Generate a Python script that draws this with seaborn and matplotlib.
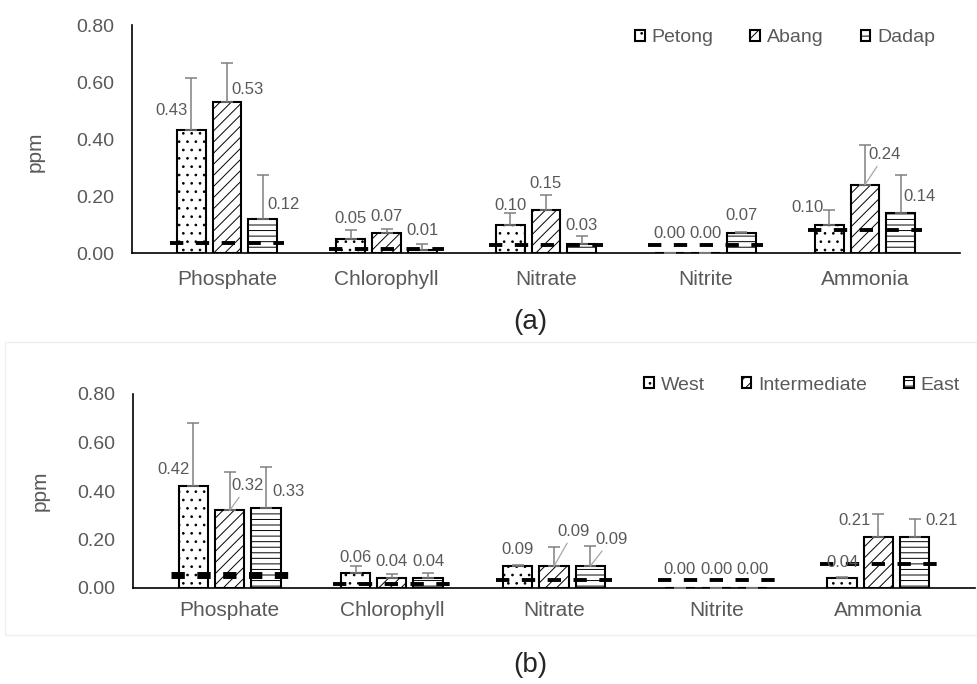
import numpy as np
import pandas as pd
import matplotlib
matplotlib.use('Agg')
import matplotlib.pyplot as plt
import matplotlib.patches as mpatches
import seaborn as sns

# parameters measured
params = ['Phosphate', 'Chlorophyll', 'Nitrate', 'Nitrite', 'Ammonia']

# (a) by site
sites = ['Petong', 'Abang', 'Dadap']
mean_petong = [0.43, 0.05, 0.10, 0.00, 0.10]
mean_abang = [0.53, 0.07, 0.15, 0.00, 0.24]
mean_dadap = [0.12, 0.01, 0.03, 0.07, 0.14]
sd_petong = [0.185, 0.03, 0.04, 0.0, 0.05]
sd_abang = [0.135, 0.015, 0.055, 0.0, 0.14]
sd_dadap = [0.155, 0.022, 0.03, 0.003, 0.135]
limit_a = [0.036, 0.013, 0.027, 0.027, 0.082]

# (b) by zone
zones = ['West', 'Intermediate', 'East']
mean_west = [0.42, 0.06, 0.09, 0.00, 0.04]
mean_inter = [0.32, 0.04, 0.09, 0.00, 0.21]
mean_east = [0.33, 0.04, 0.09, 0.00, 0.21]
sd_west = [0.26, 0.03, 0.005, 0.0, 0.007]
sd_inter = [0.16, 0.016, 0.08, 0.0, 0.095]
sd_east = [0.17, 0.02, 0.085, 0.0, 0.075]
limit_b = [0.054, 0.015, 0.033, 0.033, 0.10]

sns.set_style('white')
plt.rcParams['font.family'] = ['Liberation Sans', 'DejaVu Sans']
plt.rcParams['hatch.linewidth'] = 0.7

GRAY = '#595959'
hatches = ['..', '///', '---']

# label offsets in pixels (dx, dy) from the bar top, and whether a leader line is drawn
offs_a = [
    [(-20, 20), (0, 20), (0, 19), (0, 20), (-22, 17)],
    [(20, 12), (0, 17), (0, 27), (0, 20), (20, 30)],
    [(21, 14), (0, 20), (0, 19), (0, 18), (19, 17)],
]
lead_a = [[0, 0, 0, 0, 0], [0, 0, 0, 0, 1], [0, 0, 0, 0, 0]]
offs_b = [
    [(-20, 17), (0, 16), (0, 17), (0, 18), (0, 16)],
    [(18, 25), (0, 17), (20, 35), (0, 18), (-24, 17)],
    [(23, 16), (0, 17), (21, 27), (0, 18), (27, 17)],
]
lead_b = [[0, 0, 0, 0, 0], [1, 0, 1, 0, 0], [0, 0, 1, 0, 0]]


def draw_panel(ax, groups, means, sds, limits, offs, leads, limit_lw, legend_anchor, tick_pad):
    df = pd.DataFrame({
        'param': params * len(groups),
        'group': np.repeat(groups, len(params)),
        'value': np.concatenate(means),
    })
    sns.barplot(data=df, x='param', y='value', hue='group', order=params,
                hue_order=groups, palette=['white'] * 3, saturation=1,
                errorbar=None, width=0.67, gap=0.19, edgecolor='black',
                linewidth=1.5, legend=False, ax=ax, zorder=2)

    bar_sets = list(ax.containers)
    for i, cont in enumerate(bar_sets):
        xs, hs = [], []
        for p in cont:
            p.set_hatch(hatches[i])
            xs.append(p.get_x() + p.get_width() / 2)
            hs.append(p.get_height())
        ax.errorbar(xs, hs, yerr=[np.zeros(len(xs)), sds[i]], fmt='none',
                    ecolor='#808080', elinewidth=1.1, capsize=4, capthick=1.1,
                    zorder=3)
        for j, (x, h) in enumerate(zip(xs, hs)):
            arrow = None
            if leads[i][j]:
                arrow = dict(arrowstyle='-', color='#a6a6a6', lw=0.9,
                             shrinkA=1, shrinkB=0)
            ax.annotate(f'{means[i][j]:.2f}', xy=(x, h), xytext=offs[i][j],
                        textcoords='offset pixels', ha='center', va='center',
                        fontsize=12, color=GRAY, arrowprops=arrow, zorder=5)

    # guideline values
    for j, lim in enumerate(limits):
        lw = limit_lw[j]
        ax.hlines(lim, j - 0.36, j + 0.36, colors='black', linewidth=lw,
                  linestyles=(0, (9.6 / lw, 9.0 / lw)), zorder=4)

    ax.set_ylim(0, 0.8)
    ax.set_yticks([0, 0.2, 0.4, 0.6, 0.8])
    ax.set_yticklabels([f'{t:.2f}' for t in [0, 0.2, 0.4, 0.6, 0.8]])
    ax.set_xlabel('')
    ax.set_ylabel('ppm', fontsize=15, color=GRAY)
    ax.tick_params(axis='y', length=0, labelsize=14, labelcolor=GRAY, pad=13)
    ax.tick_params(axis='x', length=0, labelsize=15, labelcolor=GRAY, pad=tick_pad)
    for s in ['top', 'right']:
        ax.spines[s].set_visible(False)
    for s in ['left', 'bottom']:
        ax.spines[s].set_color('black')
        ax.spines[s].set_linewidth(1.2)

    handles = [mpatches.Patch(facecolor='white', edgecolor='black', hatch=h,
                              linewidth=1.5, label=g)
               for g, h in zip(groups, hatches)]
    ax.legend(handles=handles, ncol=3, frameon=False, loc='center right',
              bbox_to_anchor=legend_anchor, borderpad=0, borderaxespad=0,
              handlelength=0.5, handleheight=0.5, handletextpad=0.35,
              columnspacing=1.9, labelcolor=GRAY, prop={'size': 14})


fig = plt.figure(figsize=(9.77, 6.84), dpi=100)

# faint frame around panel (b)
fig.add_artist(mpatches.Rectangle((5 / 977, 1 - 635 / 684), 972 / 977, 293 / 684,
                                  transform=fig.transFigure, fill=False,
                                  edgecolor='#eeeeee', linewidth=1))

ax1 = fig.add_axes([132 / 977, 1 - 253 / 684, 828 / 977, 228 / 684])
draw_panel(ax1, sites, [mean_petong, mean_abang, mean_dadap],
           [sd_petong, sd_abang, sd_dadap], limit_a, offs_a, lead_a,
           [2.8] * 5, (0.97, 0.943), 12)
ax1.yaxis.set_label_coords(-0.105, 0.443)

ax2 = fig.add_axes([133 / 977, 1 - 588 / 684, 842 / 977, 194 / 684])
draw_panel(ax2, zones, [mean_west, mean_inter, mean_east],
           [sd_west, sd_inter, sd_east], limit_b, offs_b, lead_b,
           [5, 2.8, 2.8, 2.8, 2.8], (0.982, 1.046), 9)
ax2.yaxis.set_label_coords(-0.099, 0.5)

fig.text(530 / 977, 1 - 322 / 684, '(a)', ha='center', va='center',
         fontsize=20, color='#262626')
fig.text(530 / 977, 1 - 665 / 684, '(b)', ha='center', va='center',
         fontsize=20, color='#262626')

fig.savefig('out.png', dpi=100, facecolor='white')
